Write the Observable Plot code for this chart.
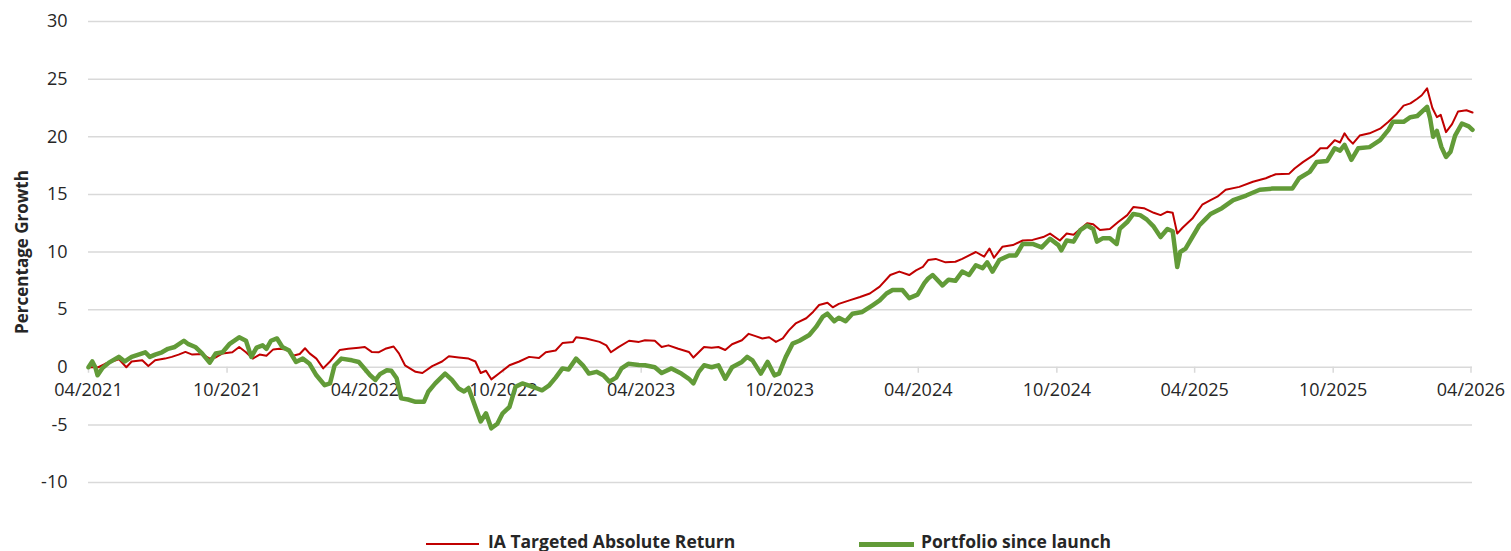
<!DOCTYPE html>
<html>
<head>
<meta charset="utf-8">
<script src="https://cdn.jsdelivr.net/npm/d3@7"></script>
<script src="https://cdn.jsdelivr.net/npm/@observablehq/plot@0.6"></script>
<style>
  html, body { margin: 0; padding: 0; background: #fff; overflow: hidden; }
  #wrap { position: relative; width: 1511px; height: 551px; }
  #legend { position: absolute; left: 0; top: 532px; width: 1511px; height: 19px; font-family: "Open Sans", Lato, sans-serif; font-weight: bold; font-size: 17.5px; color: #262626; }
  #legend .sw { position: absolute; }
  #legend .lb { position: absolute; top: 0px; line-height: 19px; white-space: nowrap; }
</style>
</head>
<body>
<div id="wrap">
  <div id="chart"></div>
  <div id="legend">
    <span class="sw" style="left:426px; top:11px; width:53px; height:2px; background:#c00000"></span>
    <span class="lb" style="left:488px">IA Targeted Absolute Return</span>
    <span class="sw" style="left:859px; top:10px; width:55px; height:5px; background:#629b38"></span>
    <span class="lb" style="left:921px">Portfolio since launch</span>
  </div>
</div>
<script>
const yTicks = [-10, -5, 0, 5, 10, 15, 20, 25, 30];
const xTickDates = ["2021-04-01","2021-10-01","2022-04-01","2022-10-01","2023-04-01","2023-10-01","2024-04-01","2024-10-01","2025-04-01","2025-10-01","2026-04-01"];
const xTickLabels = ["04/2021","10/2021","04/2022","10/2022","04/2023","10/2023","04/2024","10/2024","04/2025","10/2025","04/2026"];

const redName = "IA Targeted Absolute Return";
const redDates = ["2021-04-01","2021-04-14","2021-04-23","2021-05-11","2021-05-21","2021-05-28","2021-06-11","2021-06-19","2021-06-28","2021-07-11","2021-07-20","2021-07-29","2021-08-07","2021-08-16","2021-08-29","2021-09-08","2021-09-16","2021-09-25","2021-10-08","2021-10-17","2021-10-26","2021-11-04","2021-11-13","2021-11-22","2021-12-01","2021-12-09","2021-12-18","2021-12-27","2022-01-05","2022-01-12","2022-01-18","2022-01-27","2022-02-05","2022-02-14","2022-02-27","2022-03-10","2022-03-24","2022-04-01","2022-04-10","2022-04-19","2022-04-28","2022-05-09","2022-05-16","2022-05-24","2022-06-07","2022-06-16","2022-06-29","2022-07-12","2022-07-21","2022-08-03","2022-08-16","2022-08-25","2022-09-01","2022-09-08","2022-09-15","2022-09-26","2022-10-09","2022-10-22","2022-11-04","2022-11-17","2022-11-26","2022-12-09","2022-12-18","2023-01-01","2023-01-05","2023-01-18","2023-02-05","2023-02-14","2023-02-20","2023-03-02","2023-03-16","2023-03-29","2023-04-06","2023-04-19","2023-04-28","2023-05-07","2023-05-20","2023-06-03","2023-06-09","2023-06-16","2023-06-23","2023-07-03","2023-07-12","2023-07-21","2023-07-30","2023-08-12","2023-08-21","2023-08-30","2023-09-08","2023-09-17","2023-09-26","2023-10-05","2023-10-13","2023-10-22","2023-11-05","2023-11-14","2023-11-22","2023-12-03","2023-12-10","2023-12-18","2024-01-01","2024-01-15","2024-01-28","2024-02-10","2024-02-24","2024-03-07","2024-03-20","2024-03-29","2024-04-07","2024-04-14","2024-04-24","2024-05-07","2024-05-20","2024-05-29","2024-06-16","2024-06-27","2024-07-04","2024-07-10","2024-07-21","2024-08-04","2024-08-17","2024-08-30","2024-09-13","2024-09-22","2024-10-05","2024-10-14","2024-10-23","2024-11-01","2024-11-10","2024-11-18","2024-11-27","2024-12-10","2024-12-21","2025-01-02","2025-01-10","2025-01-24","2025-02-06","2025-02-15","2025-02-24","2025-03-03","2025-03-09","2025-03-16","2025-03-29","2025-04-11","2025-04-22","2025-05-01","2025-05-12","2025-05-30","2025-06-17","2025-07-04","2025-07-17","2025-08-04","2025-08-11","2025-08-22","2025-09-05","2025-09-14","2025-09-23","2025-10-03","2025-10-10","2025-10-16","2025-10-21","2025-10-27","2025-11-05","2025-11-18","2025-12-02","2025-12-13","2025-12-24","2026-01-02","2026-01-11","2026-01-20","2026-01-26","2026-02-02","2026-02-09","2026-02-15","2026-02-20","2026-02-27","2026-03-07","2026-03-15","2026-03-26","2026-04-03"];
const redValues = [0,0.0,0.3,0.7,0.0,0.5,0.6,0.1,0.6,0.75,0.9,1.1,1.33,1.1,1.15,0.75,0.85,1.2,1.3,1.76,1.3,0.75,1.1,1.0,1.55,1.6,1.55,1.0,1.15,1.65,1.2,0.75,-0.1,0.5,1.5,1.6,1.7,1.76,1.33,1.3,1.6,1.8,1.2,0.17,-0.4,-0.5,0.1,0.5,0.95,0.85,0.75,0.5,-0.5,-0.3,-1.05,-0.5,0.17,0.5,0.9,0.8,1.3,1.45,2.1,2.2,2.6,2.5,2.2,1.9,1.3,1.75,2.3,2.2,2.34,2.3,1.76,1.9,1.6,1.33,0.84,1.3,1.76,1.7,1.76,1.5,2.0,2.34,2.9,2.7,2.5,2.6,2.2,2.5,3.2,3.8,4.25,4.8,5.4,5.6,5.2,5.5,5.8,6.1,6.4,7.0,8.0,8.3,8.0,8.4,8.7,9.3,9.4,9.1,9.15,9.4,10.0,9.6,10.3,9.5,10.45,10.6,11.0,11.05,11.3,11.6,11.0,11.6,11.5,12.0,12.5,12.4,11.9,12.0,12.6,13.2,13.9,13.8,13.4,13.2,13.5,13.4,11.6,12.1,12.9,14.1,14.5,14.8,15.4,15.65,16.1,16.4,16.75,16.8,17.25,17.8,18.4,19.0,19.0,19.7,19.5,20.3,19.8,19.4,20.1,20.3,20.7,21.3,22.0,22.7,22.9,23.3,23.6,24.2,22.5,21.7,21.9,20.4,21.1,22.2,22.3,22.1];

const greenName = "Portfolio since launch";
const greenDates = ["2021-04-01","2021-04-06","2021-04-10","2021-04-13","2021-04-19","2021-04-28","2021-05-11","2021-05-19","2021-05-28","2021-06-06","2021-06-15","2021-06-21","2021-06-28","2021-07-07","2021-07-15","2021-07-24","2021-08-05","2021-08-11","2021-08-20","2021-08-29","2021-09-08","2021-09-16","2021-09-25","2021-10-04","2021-10-17","2021-10-26","2021-11-02","2021-11-09","2021-11-17","2021-11-22","2021-11-28","2021-12-06","2021-12-13","2021-12-22","2021-12-31","2022-01-09","2022-01-18","2022-01-27","2022-02-07","2022-02-14","2022-02-20","2022-03-01","2022-03-15","2022-03-24","2022-03-30","2022-04-08","2022-04-15","2022-04-21","2022-04-30","2022-05-06","2022-05-13","2022-05-19","2022-05-28","2022-06-07","2022-06-18","2022-06-24","2022-07-03","2022-07-16","2022-07-25","2022-08-03","2022-08-10","2022-08-16","2022-08-25","2022-09-01","2022-09-08","2022-09-15","2022-09-23","2022-09-30","2022-10-09","2022-10-17","2022-10-26","2022-11-04","2022-11-13","2022-11-21","2022-11-30","2022-12-09","2022-12-18","2022-12-26","2023-01-05","2023-01-14","2023-01-22","2023-02-01","2023-02-10","2023-02-18","2023-02-27","2023-03-06","2023-03-15","2023-03-29","2023-04-06","2023-04-19","2023-04-28","2023-05-11","2023-05-24","2023-06-03","2023-06-09","2023-06-16","2023-06-23","2023-07-03","2023-07-12","2023-07-21","2023-07-30","2023-08-12","2023-08-19","2023-08-26","2023-09-06","2023-09-15","2023-09-24","2023-09-30","2023-10-09","2023-10-18","2023-10-27","2023-11-09","2023-11-18","2023-11-27","2023-12-03","2023-12-12","2023-12-18","2023-12-27","2024-01-05","2024-01-18","2024-02-01","2024-02-10","2024-02-19","2024-02-27","2024-03-11","2024-03-20","2024-03-31","2024-04-09","2024-04-14","2024-04-20","2024-05-03","2024-05-11","2024-05-20","2024-05-29","2024-06-07","2024-06-16","2024-06-25","2024-07-01","2024-07-08","2024-07-17","2024-07-30","2024-08-08","2024-08-17","2024-08-30","2024-09-11","2024-09-22","2024-10-03","2024-10-07","2024-10-14","2024-10-23","2024-11-01","2024-11-10","2024-11-18","2024-11-23","2024-12-01","2024-12-10","2024-12-19","2024-12-23","2025-01-02","2025-01-10","2025-01-19","2025-01-28","2025-02-06","2025-02-15","2025-02-24","2025-03-03","2025-03-09","2025-03-13","2025-03-20","2025-03-29","2025-04-07","2025-04-16","2025-04-22","2025-05-07","2025-05-22","2025-06-08","2025-06-26","2025-07-13","2025-07-31","2025-08-08","2025-08-17","2025-08-31","2025-09-09","2025-09-23","2025-10-03","2025-10-10","2025-10-16","2025-10-25","2025-11-03","2025-11-18","2025-12-02","2025-12-13","2025-12-19","2026-01-02","2026-01-11","2026-01-20","2026-02-02","2026-02-06","2026-02-10","2026-02-15","2026-02-21","2026-02-27","2026-03-05","2026-03-11","2026-03-20","2026-03-29","2026-04-03"];
const greenValues = [0,0.5,0.0,-0.7,-0.1,0.4,0.9,0.5,0.9,1.1,1.3,0.9,1.1,1.3,1.6,1.76,2.3,2.0,1.76,1.2,0.4,1.2,1.3,2.0,2.6,2.3,0.9,1.7,1.9,1.6,2.3,2.5,1.76,1.45,0.46,0.75,0.3,-0.7,-1.56,-1.4,0.15,0.75,0.6,0.46,0.0,-0.7,-1.1,-0.6,-0.26,-0.3,-0.95,-2.7,-2.8,-3.0,-3.0,-2.1,-1.4,-0.55,-1.1,-1.85,-2.1,-1.8,-3.45,-4.7,-4.0,-5.3,-4.9,-4.0,-3.45,-1.7,-1.4,-1.6,-1.8,-2.0,-1.6,-0.9,-0.1,-0.2,0.75,0.17,-0.55,-0.4,-0.7,-1.25,-0.9,-0.1,0.3,0.2,0.17,0.0,-0.5,-0.1,-0.55,-1.0,-1.4,-0.4,0.17,0.0,0.17,-1.0,0.0,0.46,0.9,0.6,-0.55,0.46,-0.7,-0.55,0.9,2.05,2.3,2.8,3.5,4.4,4.65,4.0,4.3,4.0,4.65,4.8,5.4,5.8,6.4,6.7,6.7,6.0,6.3,7.3,7.7,8.0,7.1,7.6,7.5,8.3,8.0,8.85,8.6,9.1,8.3,9.3,9.7,9.7,10.7,10.7,10.4,11.15,10.6,10.15,11.0,10.9,11.9,12.3,12.0,10.9,11.2,11.2,10.7,12.0,12.6,13.3,13.2,12.8,12.2,11.3,12.0,11.8,8.7,10.0,10.3,11.3,12.3,12.9,13.3,13.8,14.5,14.9,15.4,15.5,15.5,15.5,16.4,16.95,17.8,17.9,19.0,18.8,19.3,18.0,19.0,19.1,19.7,20.6,21.3,21.3,21.7,21.8,22.6,21.6,20.0,20.5,19.1,18.25,18.7,20.1,21.15,20.9,20.6];

const parse = d3.utcParse("%Y-%m-%d");
const redData = redDates.map((d, i) => ({date: parse(d), value: redValues[i], series: redName}));
const greenData = greenDates.map((d, i) => ({date: parse(d), value: greenValues[i], series: greenName}));
const xTicks = xTickDates.map(parse);

const chart = Plot.plot({
  width: 1511,
  height: 530,
  marginLeft: 88,
  marginRight: 39,
  marginTop: 21,
  marginBottom: 48,
  style: {fontFamily: "'Open Sans', Lato, sans-serif", fontSize: "18px", color: "#262626", background: "#fff"},
  x: {type: "utc", domain: [parse("2021-04-01"), parse("2026-04-03")], axis: null},
  y: {domain: [-10, 30]},
  marks: [
    Plot.gridY(yTicks, {stroke: "#d9d9d9", strokeOpacity: 1, strokeWidth: 1.5}),
    Plot.axisY(yTicks, {tickSize: 0, tickPadding: 21, label: null, fontSize: 18, tickFormat: d => String(d)}),
    Plot.ruleX(xTicks, {x: d => d, y1: 0, y2: 0, insetBottom: -6, stroke: "#d9d9d9", strokeWidth: 1.5}),
    Plot.text(xTicks, {x: d => d, y: 0, dy: 23, text: (d, i) => xTickLabels[i], fontSize: 18, fill: "#262626"}),
    Plot.line(redData, {x: "date", y: "value", stroke: "#c00000", strokeWidth: 2}),
    Plot.line(greenData, {x: "date", y: "value", stroke: "#629b38", strokeWidth: 4.5}),
    Plot.text(["Percentage Growth"], {text: d => d, frameAnchor: "left", textAnchor: "middle", rotate: -90, dx: -66, fontWeight: "bold", fontSize: 17, fill: "#262626"})
  ]
});
document.getElementById("chart").appendChild(chart);
</script>
</body>
</html>
